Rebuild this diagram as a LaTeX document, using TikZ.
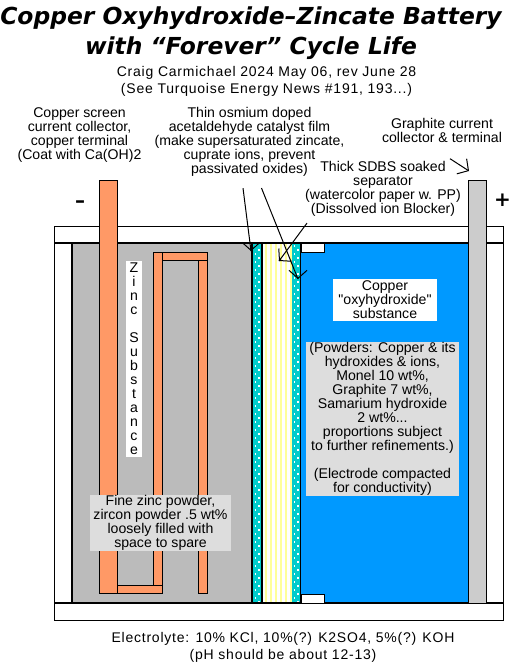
\documentclass[tikz,border=0pt]{standalone}
\usepackage{fontspec}
\setmainfont{Liberation Sans}
\newfontfamily\plainface{Liberation Sans}
\newfontfamily\titleface{DejaVu Sans}
\newfontfamily\wideface{Liberation Sans}[LetterSpace=5.5]
\usepackage{xcolor}
\usepackage{tikz}
\usetikzlibrary{arrows.meta, positioning}

\definecolor{copperfill}{HTML}{FF9966}
\definecolor{zincfill}{HTML}{BBBBBB}
\definecolor{oxyfill}{HTML}{0099FF}
\definecolor{filmfill}{HTML}{00CCCC}
\definecolor{graphitefill}{HTML}{CCCCCC}
\definecolor{notefill}{HTML}{DDDDDD}
\definecolor{stripefill}{HTML}{FFFF99}

\begin{document}
\begin{tikzpicture}[x=1pt, y=-1pt, >={Straight Barb[length=8pt, width=18pt]}, line width=1pt]
    \tikzset{
        label/.style={align=center, inner sep=0pt, font=\plainface\fontsize{14.1}{14}\selectfont},
        widelabel/.style={align=center, inner sep=0pt, font=\wideface\fontsize{14}{17}\selectfont},
        titlelabel/.style={align=center, inner sep=0pt, font=\titleface\bfseries\itshape\fontsize{23.4}{30}\selectfont},
        signlabel/.style={inner sep=0pt, font=\titleface\bfseries\fontsize{20}{20}\selectfont},
        whitebox/.style={label, fill=white},
        notebox/.style={label, fill=notefill},
        metal/.style={draw=black, fill=copperfill},
        heavy/.style={draw=black, line width=2pt},
        leader/.style={draw, ->}
    }
    \useasboundingbox (0,0) rectangle (530,664);
    \fill[white] (0,0) rectangle (530,664);

    % case and electrodes
    \draw (54,226) rectangle (503,620);
    \fill[zincfill] (72,243) rectangle (252,603);
    \fill[oxyfill] (300,243) rectangle (468,603);

    % film and separator
    \fill[filmfill] (253,243) rectangle (261,603);
    \fill[filmfill] (292,243) rectangle (300,603);
    \foreach \x in {254.5,293.5} {
        \foreach \y in {245,253,...,600} {
            \fill[white] (\x,\y) rectangle +(1.7,1.7);
            \fill[white] (\x+3.5,\y+4) rectangle +(1.7,1.7);
        }
    }
    \foreach \x in {265,270,...,290} {
        \fill[stripefill] (\x,243) rectangle (\x+2,603);
    }

    \draw[heavy] (54,243) -- (503,243);
    \draw[heavy] (54,603) -- (503,603);
    \draw[heavy] (72,243) -- (72,603);
    \draw[heavy] (252,243) -- (252,603);
    \draw[heavy] (262,243) -- (262,603);
    \draw[heavy] (486,243) -- (486,603);
    \draw (300.5,243) -- (300.5,603);

    \draw[fill=white] (301,243) rectangle (324,252);
    \draw[fill=white] (301,594) rectangle (324,603);

    % copper screen
    \draw[metal] (99,180) rectangle (117,593);
    \draw[metal] (117,585) rectangle (162,593);
    \draw[metal] (153,252) rectangle (162,585);
    \draw[metal] (162,252) rectangle (207,260);
    \draw[metal] (198,260) rectangle (207,593);

    % graphite terminal
    \draw[fill=graphitefill] (468,180) rectangle (486,603);

    \node (Title) [titlelabel] at (251,33) {Copper Oxyhydroxide–Zincate Battery\\with “Forever” Cycle Life};
    \node (Author) [widelabel] at (266.5,81) {Craig Carmichael 2024 May 06, rev June 28\\(See Turquoise Energy News \#191, 193...)};

    \node (Screen) [label] at (79.5,135) {Copper screen\\current collector,\\copper terminal\\(Coat with Ca(OH)2};
    \node (Catalyst) [label] at (249.5,142) {Thin osmium doped\\acetaldehyde catalyst film\\(make supersaturated zincate,\\cuprate ions, prevent\\passivated oxides)};
    \node (Graphite) [label] at (442,130) {Graphite current\\collector \& terminal};
    \node (Separator) [label] at (383,189) {Thick SDBS soaked\\separator\\(watercolor paper w. PP)\\(Dissolved ion Blocker)};

    \node (Minus) [signlabel] at (80,204) {–};
    \node (Plus) [signlabel] at (502.5,200) {+};

    \node (Zinc) [whitebox, minimum width=16pt, minimum height=196pt] at (134,359) {Z\\i\\n\\c\\ \\S\\u\\b\\s\\t\\a\\n\\c\\e};
    \node (Fine) [notebox, minimum width=141pt, minimum height=56pt] at (160.5,523) {Fine zinc powder,\\zircon powder .5 wt\%\\loosely filled with\\space to spare};
    \node (Copper) [whitebox, minimum width=104pt, minimum height=42pt] at (385,300) {Copper\\"oxyhydroxide"\\substance};
    \node (Powders) [notebox, minimum width=153pt, minimum height=154pt] at (382.5,419) {(Powders: Copper \& its\\hydroxides \& ions,\\Monel 10 wt\%,\\Graphite 7 wt\%,\\Samarium hydroxide\\2 wt\%...\\proportions subject\\to further refinements.)\\ \\(Electrode compacted\\for conductivity)};

    \node (Electrolyte) [widelabel] at (283,647.5) {Electrolyte: 10\% KCl, 10\%(?) K2SO4, 5\%(?) KOH\\(pH should be about 12-13)};

    \coordinate (FilmLeft) at (251,251);
    \coordinate (FilmRight) at (298,279);
    \coordinate (PaperTip) at (279,261);
    \coordinate (TerminalTip) at (469,171);

    \path [leader] ([xshift=-6.5pt, yshift=-11pt]Catalyst.south) -- (FilmLeft) ++(0,-2) -- (FilmLeft);
    \path [leader] ([xshift=12pt, yshift=-11pt]Catalyst.south) -- (FilmRight) ++(0,-2) -- (FilmRight);
    \path [leader] ([xshift=-76pt, yshift=-6pt]Separator.south) -- (PaperTip) ++(2,-2) -- (PaperTip);
    \path [leader] ([xshift=8pt, yshift=-16pt]Graphite.south) -- (TerminalTip);
\end{tikzpicture}
\end{document}
